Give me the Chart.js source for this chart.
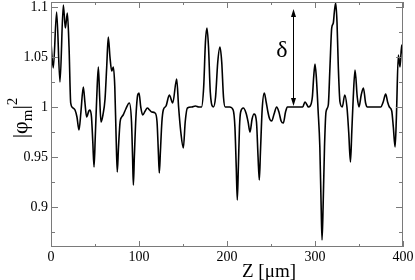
<!DOCTYPE html>
<html>
<head>
<meta charset="utf-8">
<script src="https://cdn.jsdelivr.net/npm/chart.js@4.4.1/dist/chart.umd.min.js"></script>
<style>
  body { margin: 0; background: #fff; }
  canvas { display: block; }
</style>
</head>
<body>
<canvas id="phiChart" width="415" height="280"></canvas>
<script>
// position along the waveguide, in micrometres
const zValues = [
    0, 2.6, 6.4, 10.2, 14, 16.3, 18.6, 20.5, 22.4, 25, 27.3, 29.5, 31.8, 34, 36.7, 38.5,
    40.5, 43, 44.3, 46, 47.5, 48.9, 50.3, 52, 53.8, 55.3, 56.8, 59, 61.4, 63.3, 65.1, 67,
    69, 70.8, 72.5, 74, 75.3, 76.7, 78.5, 80.3, 82, 85, 89, 91.5, 92.7, 93.6, 94.7, 96.5,
    98.5, 100, 102, 104.2, 107, 109.5, 112, 114.4, 118.2, 120.5, 122, 123.1, 124.3, 126, 127.6, 130.7,
    134.5, 138.3, 142.8, 145, 147.5, 150.4, 152.5, 155, 160, 164, 168, 171, 173.5, 175.5, 177.2, 179,
    181, 184.5, 187, 189.5, 192, 194, 196, 198, 203, 207, 209, 210.5, 211.7, 212.9, 214.2, 215.5,
    218.6, 221.6, 224, 226.1, 228.5, 230.7, 233.5, 235.3, 236.7, 238, 240, 242.4, 244.5, 246.5, 248.5, 250.8,
    253.5, 256.4, 259, 261.5, 264, 266.5, 268.6, 272, 280, 286, 288.6, 291, 292.4, 294.5, 297, 298.5,
    300, 301.5, 303.5, 305.5, 307, 308, 309.2, 310.8, 312.5, 315.1, 317, 319, 320.8, 322, 323.5, 325,
    326.5, 328.4, 331, 333.8, 336.3, 338.3, 340.3, 341.8, 343.5, 345.5, 348, 350, 352.5, 355, 357.5, 359.5,
    365, 374.7, 377.5, 380.3, 382.5, 384.5, 387.2, 389, 391, 392.5, 394.7, 396.6, 398.5, 400
];

// |phi_m|^2
const phiSquared = [
    1.064, 1.039, 1.095, 1.025, 1.102, 1.079, 1.094, 1.06, 1.004, 0.999, 0.997, 0.99, 0.977, 0.995, 1.02, 1.005,
    0.99, 0.996, 0.997, 0.99, 0.965, 0.94, 0.97, 1.01, 1.04, 1.01, 0.985, 0.992, 1.008, 1.04, 1.07, 1.05,
    1.036, 1.04, 1.02, 0.97, 0.935, 0.96, 0.985, 0.99, 0.992, 0.998, 1.004, 0.985, 0.95, 0.922, 0.95, 0.99,
    1.012, 1.014, 1.0, 0.992, 0.996, 0.999, 0.997, 0.995, 0.994, 0.985, 0.955, 0.934, 0.955, 0.985, 0.997, 1.001,
    1.012, 1.004, 1.028, 1.0, 0.975, 0.959, 0.985, 0.999, 1.0, 1.001, 1.0, 1.0, 1.02, 1.065, 1.079, 1.06,
    1.015, 1.0, 1.01, 1.045, 1.06, 1.045, 1.01, 1.0, 1.0, 0.997, 0.98, 0.94, 0.907, 0.94, 0.98, 0.995,
    0.999, 0.994, 0.985, 0.975, 0.988, 0.993, 0.985, 0.95, 0.927, 0.955, 0.998, 1.014, 1.005, 0.995, 0.988, 0.986,
    0.993, 1.0, 0.995, 0.986, 0.984, 0.995, 1.0, 1.0, 1.0, 1.0, 1.005, 1.002, 1.0, 1.001, 1.01, 1.03,
    1.043, 1.03, 0.997, 0.96, 0.9, 0.867, 0.9, 0.96, 0.995, 1.002, 1.04, 1.079, 1.084, 1.095, 1.104, 1.085,
    1.04, 1.005, 1.0, 1.012, 1.0, 0.975, 0.945, 0.975, 1.01, 1.037, 1.01, 1.0, 1.012, 1.019, 1.004, 1.0,
    1.0, 1.0, 1.005, 1.013, 1.005, 1.0, 0.996, 0.98, 0.96, 0.99, 1.052, 1.04, 1.062, 1.05
];

// axis ticks
const xMajorTicks = [0, 100, 200, 300, 400];
const xMinorTicks = [50, 150, 250, 350];
const yMajorTicks = [0.9, 0.95, 1, 1.05, 1.1];
const yMinorTicks = [0.875, 0.925, 0.975, 1.025, 1.075];

// the delta arrow (data units)
const deltaArrowZ = 275.3;
const deltaArrowTop = 1.098;
const deltaArrowBottom = 1.001;
const deltaLabelZ = 262.5;
const deltaLabelY = 1.056;

const serif = '"Liberation Serif", "DejaVu Serif", serif';
const frameColor = '#7a7a7a';

// draws the box, inward ticks, the delta arrow and both axis titles
const framePlugin = {
    id: 'frame',
    afterDraw(chart) {
        const ctx = chart.ctx;
        const area = chart.chartArea;
        const xs = chart.scales.x;
        const ys = chart.scales.y;

        ctx.save();
        ctx.strokeStyle = frameColor;
        ctx.lineWidth = 1;
        ctx.strokeRect(area.left + 0.5, area.top + 0.5, area.width - 1, area.height - 1);

        ctx.beginPath();
        const xTick = (v, len) => {
            const px = Math.round(xs.getPixelForValue(v)) + 0.5;
            ctx.moveTo(px, area.bottom); ctx.lineTo(px, area.bottom - len);
            ctx.moveTo(px, area.top); ctx.lineTo(px, area.top + len);
        };
        const yTick = (v, len) => {
            const py = Math.round(ys.getPixelForValue(v)) + 0.5;
            ctx.moveTo(area.left, py); ctx.lineTo(area.left + len, py);
            ctx.moveTo(area.right, py); ctx.lineTo(area.right - len, py);
        };
        xMajorTicks.forEach(v => xTick(v, 6));
        xMinorTicks.forEach(v => xTick(v, 3));
        yMajorTicks.forEach(v => yTick(v, 7));
        yMinorTicks.forEach(v => yTick(v, 4));
        ctx.stroke();

        // delta arrow
        const ax = Math.round(xs.getPixelForValue(deltaArrowZ)) + 0.5;
        const aTop = ys.getPixelForValue(deltaArrowTop);
        const aBot = ys.getPixelForValue(deltaArrowBottom);
        ctx.strokeStyle = '#000';
        ctx.fillStyle = '#000';
        ctx.beginPath();
        ctx.moveTo(ax, aTop + 4);
        ctx.lineTo(ax, aBot - 4);
        ctx.stroke();
        ctx.beginPath();
        ctx.moveTo(ax, aTop); ctx.lineTo(ax - 2.5, aTop + 8); ctx.lineTo(ax + 2.5, aTop + 8);
        ctx.closePath();
        ctx.moveTo(ax, aBot); ctx.lineTo(ax - 2.5, aBot - 8); ctx.lineTo(ax + 2.5, aBot - 8);
        ctx.closePath();
        ctx.fill();

        ctx.font = '24px ' + serif;
        ctx.textAlign = 'center';
        ctx.textBaseline = 'middle';
        ctx.fillText('δ', xs.getPixelForValue(deltaLabelZ), ys.getPixelForValue(deltaLabelY));

        // x title
        ctx.font = '19px ' + serif;
        ctx.textBaseline = 'alphabetic';
        ctx.fillText('Z [μm]', 269, 277);

        // y title: |φm|2 with subscript and superscript
        ctx.translate(27, 118);
        ctx.rotate(-Math.PI / 2);
        const big = '22px ' + serif;
        const small = '15px ' + serif;
        const parts = [
            { t: '|φ', f: big, dy: 0 },
            { t: 'm', f: small, dy: 5 },
            { t: '|', f: big, dy: 0 },
            { t: '2', f: small, dy: -10 }
        ];
        let total = 0;
        parts.forEach(p => { ctx.font = p.f; p.w = ctx.measureText(p.t).width; total += p.w; });
        let cx = -total / 2;
        ctx.textAlign = 'left';
        parts.forEach(p => {
            ctx.font = p.f;
            ctx.fillText(p.t, cx, p.dy);
            cx += p.w;
        });
        ctx.restore();
    }
};

function createPhiChart() {
    const ctx = document.getElementById('phiChart').getContext('2d');
    const points = zValues.map((z, i) => ({ x: z, y: phiSquared[i] }));

    new Chart(ctx, {
        type: 'line',
        data: {
            datasets: [{
                data: points,
                borderColor: '#000',
                borderWidth: 1.6,
                pointRadius: 0,
                fill: false,
                cubicInterpolationMode: 'monotone'
            }]
        },
        options: {
            responsive: false,
            animation: false,
            devicePixelRatio: 1,
            layout: { padding: { top: 2, right: 12, left: 0, bottom: 0 } },
            plugins: {
                legend: { display: false },
                tooltip: { enabled: false }
            },
            scales: {
                x: {
                    type: 'linear',
                    min: 0,
                    max: 400,
                    grid: { display: false, drawTicks: false },
                    border: { display: false },
                    afterBuildTicks: s => { s.ticks = xMajorTicks.map(v => ({ value: v })); },
                    afterFit: s => { s.height = 33; s.paddingLeft = 0; s.paddingRight = 0; },
                    ticks: {
                        color: '#000',
                        padding: 2,
                        maxRotation: 0,
                        font: { family: serif, size: 14 },
                        callback: v => String(v)
                    }
                },
                y: {
                    min: 0.86,
                    max: 1.105,
                    grid: { display: false, drawTicks: false },
                    border: { display: false },
                    afterBuildTicks: s => { s.ticks = yMajorTicks.map(v => ({ value: v })); },
                    afterFit: s => { s.width = 51; s.paddingTop = 0; s.paddingBottom = 0; },
                    ticks: {
                        color: '#000',
                        padding: 3,
                        font: { family: serif, size: 14 },
                        callback: v => String(v)
                    }
                }
            }
        },
        plugins: [framePlugin]
    });
}

createPhiChart();
</script>
</body>
</html>
